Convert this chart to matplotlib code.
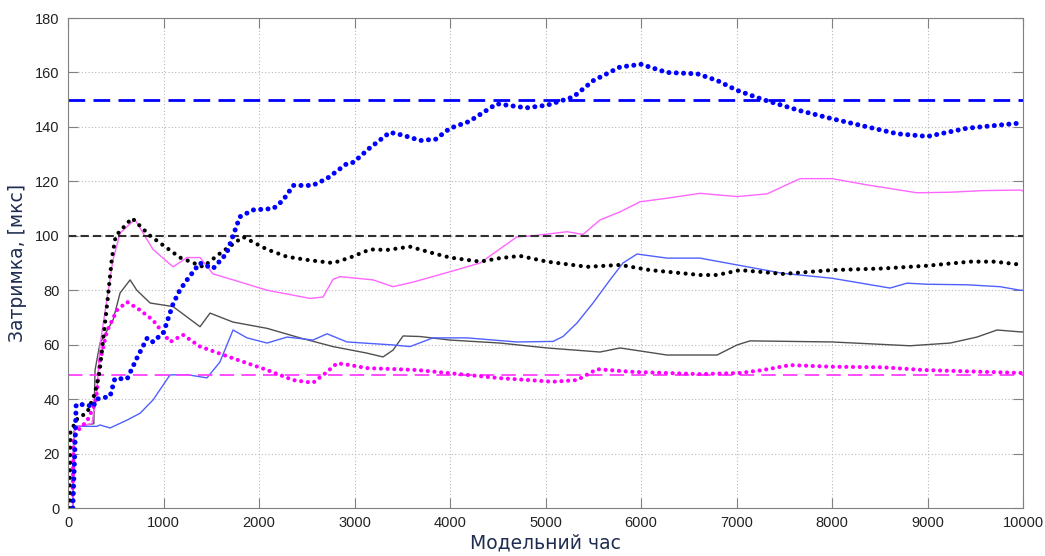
# Delay vs model time: running averages (dotted), instant values (thin) and limits (dashed)

import matplotlib
matplotlib.use("Agg")
import matplotlib.pyplot as plt

# limits
blue_limit = 150
black_limit = 100
magenta_limit = 49

# blue, averaged (thick dotted)
blue_avg_x = [50, 70, 85, 200, 260, 300, 440, 490, 620, 720, 830, 890, 1000, 1100, 1170, 1250, 1380,
              1520, 1660, 1800, 1940, 2150, 2250, 2360, 2560, 2710, 2920, 2990, 3150, 3370, 3500,
              3690, 3850, 4000, 4200, 4490, 4800, 5020, 5290, 5500, 5780, 6000, 6270, 6590, 6800,
              7000, 7280, 7660, 8000, 8370, 8680, 9000, 9410, 9760, 10000]
blue_avg_y = [0, 20, 38, 38, 37, 40, 41, 47.5, 47.5, 55, 62.5, 61, 64.5, 75, 80, 84, 90,
              88, 93.5, 107, 109.5, 110, 113, 118.5, 118.5, 121, 126.5, 127, 132, 138, 137,
              135, 135.5, 139.5, 142, 148.5, 147, 148, 151, 157, 162, 163, 160, 159.5, 157,
              153.5, 150, 146, 143, 140, 137.5, 136.5, 139.5, 140.7, 141.5]

# black, averaged (thick dotted)
black_avg_x = [15, 25, 100, 200, 280, 330, 410, 460, 500, 670, 860, 1036, 1173, 1414, 1590, 1833,
               2084, 2293, 2534, 2775, 2953, 3162, 3340, 3581, 3822, 4000, 4314, 4524, 4733, 5016,
               5435, 5780, 6094, 6618, 6796, 7037, 7487, 8000, 8534, 8995, 9445, 9700, 10000]
black_avg_y = [0, 28, 33, 35, 42, 50, 75, 92, 100, 106.5, 100, 95.5, 92, 88.6, 93.5, 99.6,
               95, 92.3, 91, 90, 92, 95, 94.8, 96, 93.6, 92, 90.5, 91.8, 92.6, 90.5,
               88.6, 89.3, 87.4, 85.6, 85.6, 87.4, 86, 87.4, 88, 89, 90.5, 90.5, 89.3]

# magenta, averaged (thick dotted)
mag_avg_x = [45, 60, 90, 200, 280, 300, 335, 408, 513, 618, 754, 890, 1068, 1204, 1382, 1728,
             2084, 2356, 2565, 2712, 2817, 2953, 3130, 3654, 4178, 4524, 5079, 5330, 5539, 5916,
             6618, 7037, 7277, 7560, 8000, 8534, 8953, 10000]
mag_avg_y = [0, 25, 28, 32, 38, 42, 54, 65, 72.7, 75.7, 72.7, 69, 61, 63.6, 59.3, 55,
             50.7, 47, 46, 50, 53.2, 52.5, 51.4, 50.7, 48.9, 47.7, 46.4, 47, 51, 50,
             49.2, 49.6, 50.7, 52.5, 51.9, 51.7, 50.7, 49.6]

# magenta, instant (thin)
mag_x = [50, 60, 100, 250, 300, 335, 400, 470, 545, 700, 890, 1100, 1245, 1382, 1518, 1728, 2084,
         2534, 2670, 2775, 2848, 3194, 3403, 3613, 4000, 4314, 4700, 4870, 5225, 5393, 5570,
         5780, 5990, 6272, 6618, 7005, 7319, 7665, 8000, 8366, 8890, 9236, 9580, 9970, 10000]
mag_y = [0, 28, 30, 31, 42, 60, 75, 91, 101, 106, 95, 88.6, 92, 92, 86, 83.8, 80,
         77, 77.5, 84, 85, 83.8, 81.3, 83, 86.8, 90, 99.6, 100, 101.5, 100.5, 105.8,
         108.8, 112.5, 113.8, 115.6, 114.4, 115.4, 121, 121, 118.7, 115.8, 116, 116.6, 116.8, 116.5]

# blue, instant (thin)
blue_x = [50, 60, 100, 300, 335, 440, 618, 754, 890, 1068, 1245, 1455, 1590, 1728, 1874, 2084,
          2293, 2565, 2712, 2921, 3403, 3581, 3822, 4178, 4700, 5079, 5183, 5330, 5497, 5675,
          5811, 5958, 6272, 6618, 7005, 7487, 8000, 8607, 8785, 8995, 9414, 9760, 9970, 10000]
blue_y = [0, 28, 30, 30, 30.5, 29.4, 32.3, 34.8, 39.7, 48.9, 49, 47.8, 53.6, 65.4, 62.5, 60.6,
          62.8, 61.7, 64, 61, 59.9, 59.3, 62.5, 62.5, 61, 61.2, 63, 68, 75.3, 83.8,
          90, 93.3, 91.8, 91.8, 89.3, 86.2, 84.4, 80.8, 82.6, 82.2, 82, 81.3, 80, 80]

# gray, instant (thin)
gray_x = [50, 60, 100, 270, 283, 335, 471, 545, 650, 720, 860, 1100, 1245, 1382, 1487, 1728, 2084,
          2429, 2775, 3130, 3298, 3403, 3508, 3686, 4000, 4524, 5016, 5570, 5780, 6272, 6796,
          7005, 7141, 8000, 8817, 9236, 9518, 9728, 9970, 10000]
gray_y = [0, 28, 30, 31, 50.7, 60.6, 69, 79, 83.8, 80, 75.3, 74, 70.2, 66.6, 71.6, 68.3, 66,
          62.5, 59.3, 56.9, 55.5, 58, 63.2, 63, 61.7, 60.6, 58.8, 57.3, 58.8, 56.2, 56.2,
          59.9, 61.4, 61, 59.6, 60.6, 62.8, 65.4, 64.7, 64.7]

x_ticks = list(range(0, 10001, 1000))
y_ticks = list(range(0, 181, 20))

fig = plt.figure(figsize=(10.45, 5.56), dpi=100)
ax = fig.add_axes([0.0651, 0.0863, 0.9139, 0.8813])

# thin instant curves
ax.plot(gray_x, gray_y, color='#505050', linewidth=1.0)
ax.plot(blue_x, blue_y, color='#5060ff', linewidth=1.0)
ax.plot(mag_x, mag_y, color='#ff66ff', linewidth=1.0)

# limits
ax.axhline(blue_limit, color='#0000ff', linewidth=2.0, dashes=(6, 3))
ax.axhline(black_limit, color='#303030', linewidth=1.5, dashes=(4, 2))
ax.axhline(magenta_limit, color='#ff40ff', linewidth=1.3, dashes=(8, 4))

# averaged curves, drawn as round dots
ax.plot(mag_avg_x, mag_avg_y, color='#ff00ff', linewidth=3.0,
        linestyle=(0, (0.01, 1.6)), dash_capstyle='round')
ax.plot(black_avg_x, black_avg_y, color='#000000', linewidth=3.0,
        linestyle=(0, (0.01, 1.8)), dash_capstyle='round')
ax.plot(blue_avg_x, blue_avg_y, color='#0000ff', linewidth=3.6,
        linestyle=(0, (0.01, 1.45)), dash_capstyle='round')

ax.set_xlim(0, 10000)
ax.set_ylim(0, 180)
ax.set_xticks(x_ticks)
ax.set_yticks(y_ticks)
ax.grid(True, linestyle=(0, (1, 2)), color='#b8b8b8', linewidth=0.8)

for s in ax.spines.values():
    s.set_color('#808080')
ax.tick_params(direction='in', length=7, color='#808080', top=True, right=True,
               labelsize=10.5, labelcolor='#222222', pad=6)
for lab in ax.get_xticklabels() + ax.get_yticklabels():
    lab.set_family('Liberation Sans')

ax.set_xlabel("Модельний час", fontsize=13.5, color='#1f2d50', family='DejaVu Sans', labelpad=2)
ax.set_ylabel("Затримка, [мкс]", fontsize=13.5, color='#1f2d50', family='DejaVu Sans', labelpad=6)

fig.savefig("out.png", dpi=100)
